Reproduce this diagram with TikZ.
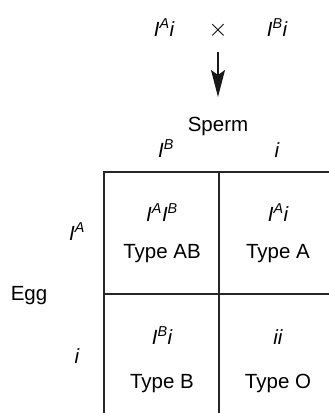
\documentclass[tikz,border=0pt]{standalone}
\usepackage{fontspec}
\setmainfont{Liberation Sans}
\usetikzlibrary{arrows.meta}
\begin{document}
\begin{tikzpicture}[x=1pt,y=-1pt,
  lbl/.style={font=\fontsize{20.5}{24}\selectfont, inner sep=0pt, anchor=base},
  gridline/.style={line width=1.2pt, draw=black!85},
  cross/.style={-{Stealth[length=27pt,width=14pt,inset=5pt]}, line width=1.3pt, draw=black!90}]
\useasboundingbox (0,0) rectangle (329,413);
% parents
\node[lbl] (p1) at (164,36) {\itshape I\textsuperscript{A}i};
\node[inner sep=0pt, font=\fontsize{30}{32}\selectfont] (x) at (218,30) {$\times$};
\node[lbl] (p2) at (277,36) {\itshape I\textsuperscript{B}i};
\coordinate (as) at (218,52);
\coordinate (ae) at (218,97);
\draw[cross] (as) -- (ae);
% headers
\node[lbl] (sperm) at (218,131) {Sperm};
\node[lbl] (sB) at (166,157) {\itshape I\textsuperscript{B}};
\node[lbl] (si) at (277,157) {\itshape i};
\node[lbl] (eA) at (77,240) {\itshape I\textsuperscript{A}};
\node[lbl] (egg) at (29,300) {Egg};
\node[lbl] (ei) at (77,363) {\itshape i};
% grid
\coordinate (tl) at (104,172);
\coordinate (tr) at (329,172);
\coordinate (bl) at (104,413);
\coordinate (tm) at (219,172);
\coordinate (bm) at (219,413);
\coordinate (ml) at (104,294);
\coordinate (mr) at (329,294);
\draw[gridline] (tr) -- (tl) -- (bl);
\draw[gridline] (tm) -- (bm);
\draw[gridline] (ml) -- (mr);
% cells
\node[lbl] (g1) at (162,221) {\itshape I\textsuperscript{A}I\textsuperscript{B}};
\node[lbl] (t1) at (162,258) {Type AB};
\node[lbl] (g2) at (278,221) {\itshape I\textsuperscript{A}i};
\node[lbl] (t2) at (278,258) {Type A};
\node[lbl] (g3) at (162,344) {\itshape I\textsuperscript{B}i};
\node[lbl] (t3) at (162,388) {Type B};
\node[lbl] (g4) at (278,344) {\itshape ii};
\node[lbl] (t4) at (278,388) {Type O};
\end{tikzpicture}
\end{document}
